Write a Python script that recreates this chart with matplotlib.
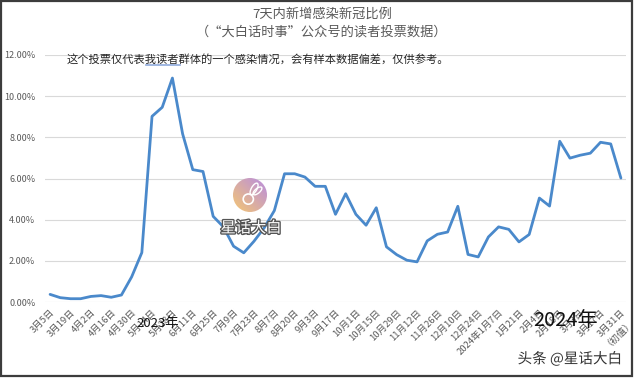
import matplotlib
matplotlib.use("Agg")
import matplotlib.pyplot as plt
import numpy as np
from matplotlib.patches import Rectangle, Circle, Ellipse
from matplotlib.lines import Line2D
from matplotlib.font_manager import FontProperties
import matplotlib.patheffects as pe
from matplotlib.ticker import FuncFormatter

plt.rcParams['font.family'] = ['Noto Sans CJK SC', 'DejaVu Sans']

# ---------------- data ----------------
title = "7天内新增感染新冠比例"
subtitle = "（“大白话时事”公众号的读者投票数据）"
note_a = "这个投票仅代表"
note_b = "我读者"
note_c = "群体的一个感染情况，会有样本数据偏差，仅供参考。"

# weekly share (%) of readers newly infected in the last 7 days
values = [0.37, 0.21, 0.16, 0.16, 0.27, 0.31, 0.23, 0.34, 1.22, 2.40,
          9.02, 9.46, 10.88, 8.17, 6.43, 6.34, 4.16, 3.65, 2.71, 2.39,
          2.95, 3.60, 4.44, 6.23, 6.23, 6.07, 5.62, 5.62, 4.26, 5.26,
          4.26, 3.73, 4.58, 2.68, 2.30, 2.03, 1.95, 2.97, 3.29, 3.40,
          4.65, 2.31, 2.19, 3.16, 3.65, 3.53, 2.92, 3.28, 5.05, 4.66,
          7.81, 6.99, 7.13, 7.23, 7.76, 7.68, 6.02]

# category labels shown on the axis (every second week)
tick_labels = ["3月5日", "3月19日", "4月2日", "4月16日", "4月30日", "5月14日",
               "5月28日", "6月11日", "6月25日", "7月9日", "7月23日", "8月7日",
               "8月20日", "9月3日", "9月17日", "10月1日", "10月15日", "10月29日",
               "11月12日", "11月26日", "12月10日", "12月24日", "2024年1月7日",
               "1月21日", "2月4日", "2月18日", "3月3日", "3月17日",
               "3月31日\n（初值）"]
y_ticks = [0, 2, 4, 6, 8, 10, 12]

# ---------------- figure ----------------
W, H = 640, 380
fig = plt.figure(figsize=(W / 100, H / 100), dpi=100)
fig.patch.set_facecolor("white")

def fx(px):
    return px / W

def fy(py):
    return 1 - py / H

ax = fig.add_axes([fx(45), fy(302), fx(626) - fx(45), fy(55) - fy(302)])
x = np.arange(len(values))
ax.plot(x, values, color="#4A89CB", lw=2.0, solid_joinstyle="round",
        solid_capstyle="round", zorder=3)
ax.set_xlim(-0.5, len(values) - 0.5)
ax.set_ylim(0, 12)
ax.set_yticks(y_ticks)
ax.yaxis.set_major_formatter(FuncFormatter(lambda v, p: f"{v:.2f}%"))
ax.grid(axis="y", color="#D9D9D9", lw=0.8)
ax.set_axisbelow(True)
for s in ax.spines.values():
    s.set_visible(False)
ax.set_xticks(x[::2])
ax.set_xticklabels(tick_labels, rotation=45, ha="right", va="top",
                   rotation_mode="anchor", fontsize=6.8, color="#595959",
                   linespacing=1.0)
ax.tick_params(axis="x", length=0, pad=4)
ax.tick_params(axis="y", length=0, pad=7, labelsize=6.5, labelcolor="#595959")

# ---------------- titles ----------------
fig.text(fx(322), fy(14), title, ha="center", va="center", fontsize=9.5, color="#595959")
fig.text(fx(322), fy(32), subtitle, ha="center", va="center", fontsize=9.5, color="#595959")

# note with underline under 我读者
note_fs = 8.1
fig.canvas.draw()
r = fig.canvas.get_renderer()
fp = FontProperties(family=['Noto Sans CJK SC', 'DejaVu Sans'], size=note_fs)
fig.text(fx(67), fy(59), note_a + note_b + note_c, ha="left", va="center",
         fontsize=note_fs, color="#262626")
wa = r.get_text_width_height_descent(note_a, fp, ismath=False)[0]
wb = r.get_text_width_height_descent(note_b, fp, ismath=False)[0]
ux0 = 67 + wa
ux1 = ux0 + wb
fig.add_artist(Line2D([fx(ux0), fx(ux1)], [fy(65), fy(65)],
                      transform=fig.transFigure, color="#8FAADC", lw=1.2))

# year labels
fig.text(fx(158), fy(323), "2023年", ha="center", va="center", fontsize=9.5, color="#111111", zorder=5)
fig.text(fx(566), fy(321), "2024年", ha="center", va="center", fontsize=14.5, color="#111111", zorder=5)

# logo
lax = fig.add_axes([fx(233), fy(212), fx(267) - fx(233), fy(178) - fy(212)])
lax.set_xlim(0, 1)
lax.set_ylim(0, 1)
lax.axis("off")
g = np.linspace(0, 1, 64)
gx, gy = np.meshgrid(g, g)
t = np.clip((gx + (1 - gy)) / 2, 0, 1)
c1 = np.array([0.96, 0.78, 0.45])
c2 = np.array([0.72, 0.55, 0.88])
img = c1[None, None, :] * (1 - t[..., None]) + c2[None, None, :] * t[..., None]
im = lax.imshow(img, extent=(0, 1, 0, 1), origin="upper")
circ = Circle((0.5, 0.5), 0.5, transform=lax.transData)
im.set_clip_path(circ)
lax.add_patch(Circle((0.45, 0.38), 0.15, fill=False, ec="white", lw=1.2))
lax.add_patch(Ellipse((0.62, 0.68), 0.16, 0.38, angle=-30, fill=False, ec="white", lw=1.0))
lax.add_patch(Ellipse((0.72, 0.62), 0.14, 0.32, angle=-50, fill=False, ec="white", lw=1.0))
fig.text(fx(251), fy(228), "星话大白", ha="center", va="center", fontsize=11, color="white",
         path_effects=[pe.withStroke(linewidth=2, foreground="#555555")], zorder=6)

# watermark
fig.text(fx(570), fy(359), "头条 @星话大白", ha="center", va="center", fontsize=10.5,
         color="#333333", path_effects=[pe.withStroke(linewidth=2, foreground="white")])

# outer frame
fig.add_artist(Rectangle((fx(1), fy(376)), fx(632) - fx(1), fy(1) - fy(376),
                         transform=fig.transFigure, fill=False, ec="#3C3C3C", lw=1.6))

fig.savefig("out.png", dpi=100)
